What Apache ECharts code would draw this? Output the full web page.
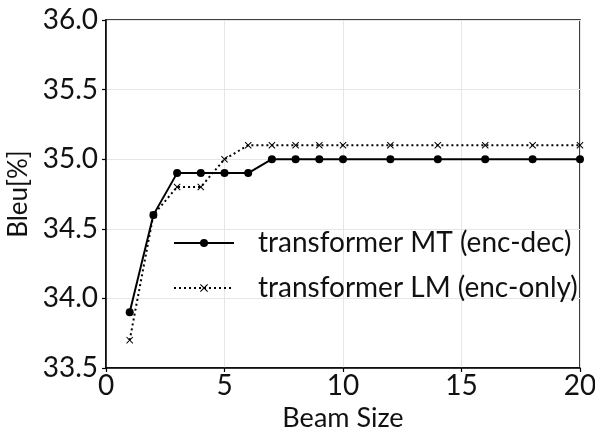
<!DOCTYPE html>
<html><head><meta charset="utf-8">
<script src="https://cdn.jsdelivr.net/npm/echarts@6/dist/echarts.min.js"></script>
<style>html,body{margin:0;padding:0;background:#fff}#c{width:595px;height:428px}</style>
</head><body><div id="c"></div>
<script>
const beamSizes = [1,2,3,4,5,6,7,8,9,10,12,14,16,18,20];
const mtBleu = [33.9,34.6,34.9,34.9,34.9,34.9,35.0,35.0,35.0,35.0,35.0,35.0,35.0,35.0,35.0];
const lmBleu = [33.7,34.6,34.8,34.8,35.0,35.1,35.1,35.1,35.1,35.1,35.1,35.1,35.1,35.1,35.1];
const seriesNames = ['transformer MT (enc-dec)','transformer LM (enc-only)'];
const xLabel = 'Beam Size', yLabel = 'Bleu[%]';

const FONT = 'Lato';
const cross = 'path://M0,1 L1,0 L5,4 L9,0 L10,1 L6,5 L10,9 L9,10 L5,6 L1,10 L0,9 L4,5 Z';
const chart = echarts.init(document.getElementById('c'), null, {renderer:'canvas'});
chart.setOption({
  animation:false,
  backgroundColor:'#fff',
  textStyle:{fontFamily:FONT},
  grid:{left:106,right:15,top:20,bottom:60,show:true,borderColor:'#000',borderWidth:1.5,
        backgroundColor:'transparent',containLabel:false,outerBoundsMode:'none'},
  legend:{
    left:168, top:224, orient:'vertical', itemWidth:60, itemHeight:10, itemGap:17,
    textStyle:{fontFamily:FONT,fontSize:28,color:'#111',padding:[0,0,0,19]},
    data:seriesNames
  },
  xAxis:{
    type:'value', min:0, max:20, interval:5,
    name:xLabel, nameLocation:'middle', nameGap:35,
    nameTextStyle:{fontFamily:FONT,fontSize:27,color:'#111'},
    axisLine:{show:true,lineStyle:{color:'#000',width:1.5}},
    axisTick:{show:true,length:4,lineStyle:{color:'#000',width:1.2}},
    axisLabel:{fontFamily:FONT,fontSize:28,color:'#111',margin:4},
    splitLine:{show:true,lineStyle:{color:'#e6e6e6',width:1}}
  },
  yAxis:{
    type:'value', min:33.5, max:36.0, interval:0.5,
    name:yLabel, nameLocation:'middle', nameGap:69, nameRotate:90,
    nameTextStyle:{fontFamily:FONT,fontSize:26,color:'#111'},
    axisLine:{show:true,lineStyle:{color:'#000',width:1.5}},
    axisTick:{show:true,length:4,lineStyle:{color:'#000',width:1.2}},
    axisLabel:{fontFamily:FONT,fontSize:28,color:'#111',margin:8,formatter:v=>v.toFixed(1)},
    splitLine:{show:true,lineStyle:{color:'#e6e6e6',width:1}}
  },
  series:[
    {name:seriesNames[0],type:'line',data:beamSizes.map((x,i)=>[x,mtBleu[i]]),
     symbol:'circle',symbolSize:8,showAllSymbol:true,
     lineStyle:{color:'#000',width:2},itemStyle:{color:'#000'},z:3},
    {name:seriesNames[1],type:'line',data:beamSizes.map((x,i)=>[x,lmBleu[i]]),
     symbol:cross,symbolSize:7,showAllSymbol:true,
     lineStyle:{color:'#000',width:2,type:[2,3]},itemStyle:{color:'#000'},z:2}
  ]
});
</script></body></html>
